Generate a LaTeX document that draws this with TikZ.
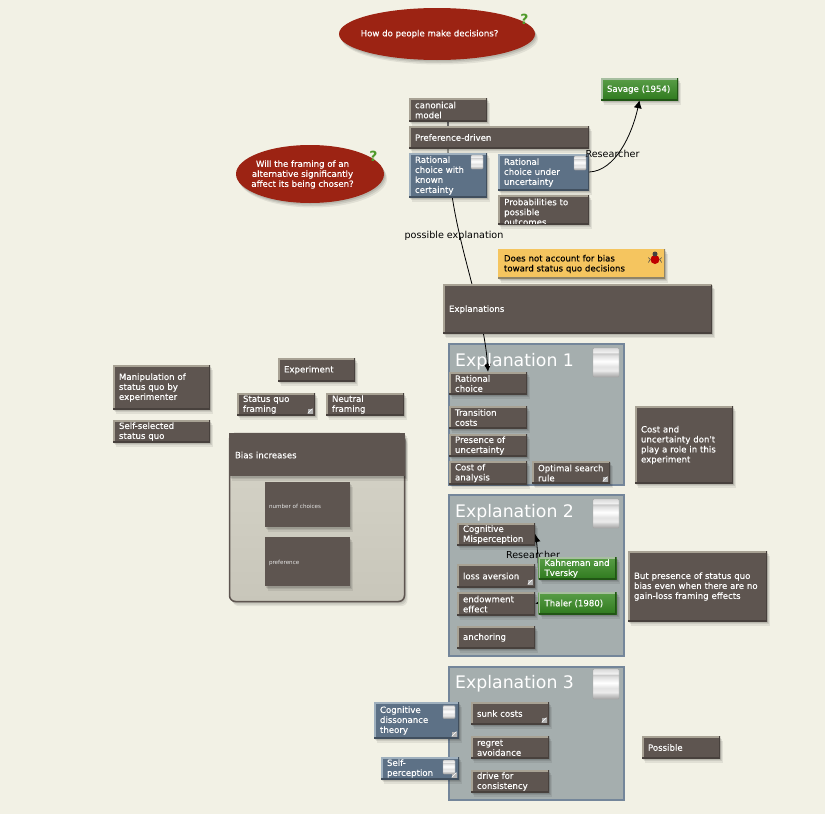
\documentclass[tikz,border=0pt]{standalone}
\usepackage{fontspec}
\setmainfont{DejaVu Sans}
\newfontfamily\boxfont[RawFeature={embolden=0.25}]{DejaVu Sans}
\usetikzlibrary{positioning,arrows.meta,shapes.geometric,shadows}
\definecolor{pagebg}{HTML}{F2F1E5}
\definecolor{brownfill}{HTML}{5E5550}
\definecolor{brownlight}{HTML}{A8A294}
\definecolor{brownedge}{HTML}{48413D}
\definecolor{bluefill}{HTML}{5D7186}
\definecolor{bluelight}{HTML}{9FB0BE}
\definecolor{ovalred}{HTML}{9C2313}
\definecolor{notefill}{HTML}{F5C55F}
\definecolor{noteedge}{HTML}{8F8468}
\definecolor{cardfill}{HTML}{A5AEAE}
\definecolor{cardline}{HTML}{74869A}
\definecolor{bodytop}{HTML}{D6D4C8}
\definecolor{bodybottom}{HTML}{C8C6BA}
\definecolor{greentop}{HTML}{5A9E48}
\definecolor{greenbottom}{HTML}{2F7A1E}
\definecolor{greenlight}{HTML}{A7BFA0}
\definecolor{qgreen}{HTML}{4F9A2A}
\pgfdeclareverticalshading{gloss}{100bp}{color(0bp)=(gray!70);color(25bp)=(gray!70);color(33bp)=(gray!35);color(36bp)=(white!85!gray);color(43bp)=(gray!22);color(52bp)=(white);color(62bp)=(gray!25);color(66bp)=(gray!45);color(67bp)=(white!90!gray);color(75bp)=(gray!30);color(100bp)=(gray!30)}
\pgfdeclarelayer{backlayer}
\pgfdeclarelayer{edgelayer}
\pgfsetlayers{backlayer,edgelayer,main}
\tikzset{
  softshadow/.style={general shadow={shadow xshift=1pt,shadow yshift=-1.5pt,fill=black,opacity=.1},general shadow={shadow xshift=2pt,shadow yshift=-3pt,fill=black,opacity=.09},general shadow={shadow xshift=3pt,shadow yshift=-4.5pt,fill=black,opacity=.07}},
  bevel/.style 2 args={path picture={
    \draw[#1,line width=3.6pt] (path picture bounding box.south west) -- (path picture bounding box.north west) -- (path picture bounding box.north east);
    \draw[#2,line width=2.6pt] (path picture bounding box.north east) -- (path picture bounding box.south east) -- (path picture bounding box.south west);}},
  basebox/.style={rectangle,inner xsep=6pt,inner ysep=0pt,align=left,text=white,minimum height=22,font=\boxfont\fontsize{8.6}{10}\selectfont,execute at begin node={\rule{0pt}{7.6pt}},softshadow},
  brownbox/.style={basebox,fill=brownfill,text width=#1pt-12pt,bevel={brownlight}{brownedge}},
  brownbox/.default=78,
  bluebox/.style={basebox,fill=bluefill,text width=#1pt-12pt,bevel={bluelight}{bluefill!70!black}},
  greenbox/.style={basebox,top color=greentop,bottom color=greenbottom,text width=#1pt-12pt,bevel={greenlight}{greenbottom!70!black}},
  greenbox/.default=78,
  plainbox/.style={basebox,fill=brownfill,text width=#1pt-12pt},
  notebox/.style={basebox,fill=notefill,text=black,text width=#1pt-12pt,bevel={notefill}{noteedge}},
  clippedtext/.style={rectangle,inner sep=0pt,align=left,text=white,font=\boxfont\fontsize{8.6}{10}\selectfont},
  redoval/.style={ellipse,fill=ovalred,inner sep=0pt,softshadow},
  ovaltext/.style={text=white,inner sep=0pt,align=center,font=\boxfont\fontsize{8.6}{10}\selectfont},
  qmark/.style={text=qgreen,inner sep=0pt,font=\fontsize{14}{14}\selectfont\bfseries},
  expcard/.style={rectangle,fill=cardfill,draw=cardline,line width=1.5pt,minimum width=175,minimum height=#1},
  cardtitle/.style={text=white,inner sep=0pt,anchor=west,font=\fontsize{17.3}{20}\selectfont},
  glossicon/.style={rectangle,draw=gray!70,rounded corners=1pt,shading=gloss,inner sep=0pt,minimum width=#1},
  glossicon/.default=12,
  expandmark/.style={rectangle,fill=gray!60,inner sep=0pt,minimum size=5,path picture={\draw[white,line width=.6pt] (path picture bounding box.south west) -- (path picture bounding box.north east);}},
  edgelabel/.style={text=black,inner sep=0pt,font=\fontsize{9.6}{11}\selectfont},
  edgeline/.style={draw=black,line width=.8pt,-{Latex[length=8pt,width=8pt]}}
}
\begin{document}
\begin{tikzpicture}[x=1pt,y=-1pt]
\useasboundingbox (0,0) rectangle (825,814);
\begin{pgfonlayer}{backlayer}
\fill[pagebg] (0,0) rectangle (825,814);
\node[expcard=141] (cardone) at (536.5,414.5) {};
\node[expcard=161] (cardtwo) at (536.5,575.5) {};
\node[expcard=133] (cardthree) at (536.5,733.5) {};
\end{pgfonlayer}

\node[redoval,minimum width=196,minimum height=52] (ovalhow) at (437,34) {};
\node[ovaltext] (ovalhowtext) at (429.5,34) {How do people make decisions?};
\node[qmark] (qhow) at (524.5,19) {?};
\node[redoval,minimum width=148,minimum height=58] (ovalframe) at (310,174) {};
\node[ovaltext] (ovalframetext) at (302.5,174.5) {Will the framing of an\\alternative significantly\\affect its being chosen?};
\node[qmark] (qframe) at (373.5,156) {?};

\node[brownbox,minimum height=23] (canon) at (448,109.5) {canonical\\model};
\node[brownbox=180] (prefdriven) at (499,137) {Preference-driven};
\node[bluebox=78,minimum height=44] (ratknown) at (448,175) {Rational\\choice with\\known\\certainty};
\node[glossicon,minimum height=14] (iconknown) at (477,162) {};
\node[bluebox=91,minimum height=36] (ratunc) at (543.5,172) {Rational\\choice under\\uncertainty};
\node[glossicon,minimum height=14] (iconunc) at (580,163) {};
\node[brownbox=91,minimum height=29] (probs) at (543.5,209.5) {};
\begin{scope}
\clip (498,197) rectangle (589,223);
\node[clippedtext,text width=79pt,anchor=north west] (probstext) at (504,198.5) {Probabilities to\\possible\\outcomes};
\end{scope}
\node[greenbox=77] (savage) at (639.5,89) {Savage (1954)};
\node[notebox=167,minimum height=29] (bias) at (581.5,263.5) {Does not account for bias\\toward status quo decisions};
\node[circle,fill=red!75!black,inner sep=0pt,minimum size=9] (bugbody) at (655,259.5) {};
\node[circle,fill=black!75,inner sep=0pt,minimum size=5] (bughead) at (655,254) {};
\draw[black!70,line width=.6pt] (bugbody.west) -- ++(-2,-2) (bugbody.west) -- ++(-2,3) (bugbody.east) -- ++(2,-2) (bugbody.east) -- ++(2,3);
\node[brownbox=269,minimum height=49] (explan) at (577.5,309) {Explanations};

\node[cardtitle] (titleone) at (455,362) {Explanation 1};
\node[glossicon=26,minimum height=29] (iconone) at (606,362.5) {};
\node[brownbox] (ratchoice) at (488,383) {Rational\\choice};
\node[brownbox] (transcost) at (488,417) {Transition\\costs};
\node[brownbox] (uncert) at (488,445) {Presence of\\uncertainty};
\node[brownbox,minimum height=23] (costan) at (488,472.5) {Cost of\\analysis};
\node[brownbox] (optimal) at (571,472.5) {Optimal search\\rule};
\node[expandmark] (markoptimal) at (605,479) {};
\node[brownbox=98,minimum height=77] (noteone) at (684,444.5) {Cost and\\uncertainty don't\\play a role in this\\experiment};

\node[cardtitle] (titletwo) at (455,513) {Explanation 2};
\node[glossicon=26,minimum height=29] (icontwo) at (606,513.5) {};
\node[brownbox] (misperc) at (496,534) {Cognitive\\Misperception};
\node[brownbox,minimum height=23] (loss) at (496,575.5) {loss aversion};
\node[expandmark] (markloss) at (530,582) {};
\node[brownbox,minimum height=23] (endow) at (496,603.5) {endowment\\effect};
\node[brownbox] (anchor) at (496,637) {anchoring};
\node[greenbox] (kahneman) at (577.5,568) {Kahneman and\\Tversky};
\node[greenbox] (thaler) at (577.5,603) {Thaler (1980)};
\node[brownbox=139,minimum height=70] (notetwo) at (697.5,586) {But presence of status quo\\bias even when there are no\\gain-loss framing effects};

\node[cardtitle] (titlethree) at (455,684) {Explanation 3};
\node[glossicon=26,minimum height=30] (iconthree) at (606,684) {};
\node[brownbox] (sunk) at (510,713) {sunk costs};
\node[expandmark] (marksunk) at (544,720) {};
\node[brownbox] (regret) at (510,747) {regret\\avoidance};
\node[brownbox] (drive) at (510,781) {drive for\\consistency};
\node[bluebox=85,minimum height=36] (disson) at (416.5,720) {Cognitive\\dissonance\\theory};
\node[glossicon,minimum height=13] (icondisson) at (449,712) {};
\node[expandmark] (markdisson) at (454,734) {};
\node[bluebox=78] (selfperc) at (420,768) {Self-\\perception};
\node[glossicon,minimum height=14] (iconself) at (449,767) {};
\node[expandmark] (markself) at (454,775) {};
\node[brownbox] (possible) at (681,747) {Possible};

\node[brownbox=97,minimum height=44] (manip) at (161.5,387) {Manipulation of\\status quo by\\experimenter};
\node[brownbox=97] (selfsel) at (161.5,431) {Self-selected\\status quo};
\node[brownbox=77,minimum height=23] (experiment) at (316.5,369.5) {Experiment};
\node[brownbox] (statusq) at (276,404) {Status quo\\framing};
\node[expandmark] (markstatus) at (310,411) {};
\node[brownbox] (neutral) at (365,404) {Neutral\\framing};
\node[rectangle,rounded corners=6pt,top color=bodytop,bottom color=bodybottom,draw=brownfill,line width=1.5pt,minimum width=175,minimum height=168,softshadow] (biasbody) at (317,517.5) {};
\node[basebox,fill=brownfill,text width=164pt,minimum height=43] (biashead) at (317,454.5) {Bias increases};
\node[plainbox=89,minimum height=45,text=white!80!gray,font=\fontsize{5.6}{7}\selectfont,inner xsep=4pt] (numchoices) at (307.5,504.5) {number of choices};
\node[plainbox=89,minimum height=49,text=white!80!gray,font=\fontsize{5.6}{7}\selectfont,inner xsep=4pt] (prefer) at (307.5,561.5) {preference};

\begin{pgfonlayer}{edgelayer}
\draw[draw=gray!85!black,line width=1.6pt] (canon.south) -- (canon.south |- prefdriven.north);
\draw[edgeline] (canon.south |- prefdriven.south) .. controls (449,230) and (483,300) .. (ratchoice.north);
\draw[edgeline] (ratunc.east) .. controls (615,171) and (632,135) .. (savage.south);
\draw[edgeline] (kahneman.west) .. controls (538,555) and (537,545) .. (misperc.east);
\draw[edgeline] (thaler.west) -- (endow.east);
\node[edgelabel] (labelkahneman) at (533,555) {Researcher};
\end{pgfonlayer}
\node[edgelabel] (labelsavage) at (612.5,154) {Researcher};
\node[edgelabel] (labelpossible) at (454,236) {possible explanation};
\end{tikzpicture}
\end{document}
